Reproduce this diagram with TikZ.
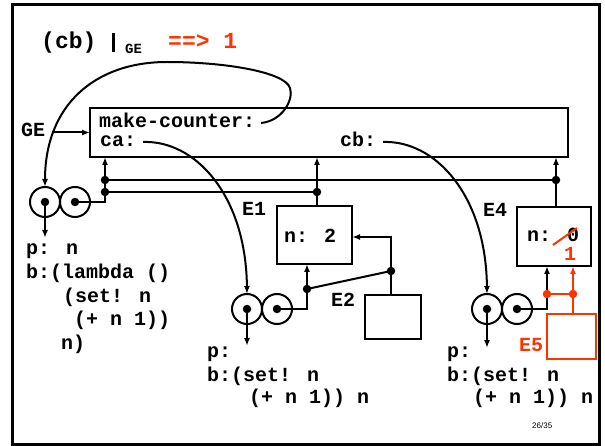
\documentclass[tikz,border=0pt]{standalone}
\usepackage{fontspec}
\newfontfamily\codefont{Liberation Mono}
\newfontfamily\pagefont{Liberation Sans}
\usetikzlibrary{arrows.meta}
\definecolor{hot}{RGB}{255,51,0}
\begin{document}
\begin{tikzpicture}[x=1pt,y=-1pt,
  wire/.style={line width=2pt},
  arr/.style={wire,-{Latex[length=8pt,width=6pt]}},
  dotnode/.style={circle,fill,inner sep=0pt,minimum size=8.5pt},
  cell/.style={circle,draw,line width=2pt,minimum size=30pt,inner sep=0pt,outer sep=0pt},
  frame/.style={draw,line width=2.2pt,inner sep=0pt,outer sep=0pt,anchor=north west},
  code/.style={font=\codefont\bfseries\fontsize{20}{24}\selectfont,inner sep=0pt,anchor=base west},
  big/.style={font=\codefont\bfseries\fontsize{23}{27}\selectfont,inner sep=0pt,anchor=base west},
]
\useasboundingbox (0,0) rectangle (605,446);
\draw[line width=3pt] (12,5) rectangle (599,444);

% title line
\node[big] (call) at (41,49) {(cb)};
\node[inner sep=0pt,anchor=south] (bar) at (113,52) {\rule{3pt}{19pt}};
\node[font=\codefont\bfseries\fontsize{14}{16}\selectfont,inner sep=0pt,anchor=base west] (sub) at (125,54) {GE};
\node[big,text=hot] (res) at (168,49) {==> 1};

% environment frames
\node[frame,minimum width=478pt,minimum height=49pt] (GEbox) at (90,108) {};
\node[frame,minimum width=75pt,minimum height=58pt] (E1box) at (277,206) {};
\node[frame,minimum width=74pt,minimum height=59pt] (E4box) at (517,207) {};
\node[frame,minimum width=56pt,minimum height=44pt] (E2box) at (365,295) {};
\node[frame,draw=hot,minimum width=49pt,minimum height=45pt] (E5box) at (547,314) {};

% procedure objects (pairs of cells)
\node[cell] (c1a) at (45,202) {};
\node[cell] (c1b) at (75,202) {};
\node[cell] (c2a) at (247,309) {};
\node[cell] (c2b) at (277,309) {};
\node[cell] (c3a) at (487,309) {};
\node[cell] (c3b) at (517,309) {};

% junction points
\coordinate (j1) at (105,180);
\coordinate (j2) at (105,192);
\coordinate (j3) at (317,192);
\coordinate (j4) at (556,180);
\coordinate (j5) at (307,289);
\coordinate (j6) at (391,271);
\coordinate (k6) at (391,237);
\coordinate (j7) at (547,294);
\coordinate (j8) at (573,294);

% frame texts
\node[code] (gelab) at (21,137) {GE};
\node[code] (mc) at (99,128) {make-counter:};
\node[code] (ca) at (100,147) {ca:};
\node[code] (cb) at (340,147) {cb:};
\node[code] (e1) at (242,216) {E1};
\node[code] (n2) at (284,243) {n: 2};
\node[code] (e2) at (331,306) {E2};
\node[code] (e4) at (483,217) {E4};
\node[code] (n0) at (527,242) {n: 0};
\node[code,text=hot] (one) at (564,261) {1};
\node[code,text=hot] (e5) at (519,351) {E5};

% procedure bodies
\node[code] (b1p) at (26,255) {p: n};
\node[code] (b1b) at (26,279) {b:(lambda ()};
\node[code] (b1c) at (63,302) {(set! n};
\node[code] (b1d) at (74,326) {(+ n 1))};
\node[code] (b1e) at (61,349) {n)};
\node[code] (b2p) at (207,357) {p:};
\node[code] (b2b) at (207,381) {b:(set! n};
\node[code] (b2c) at (249,403) {(+ n 1)) n};
\node[code] (b3p) at (447,357) {p:};
\node[code] (b3b) at (447,381) {b:(set! n};
\node[code] (b3c) at (473,403) {(+ n 1)) n};

\node[font=\pagefont\fontsize{8}{9}\selectfont,anchor=base west,inner sep=0pt] (pg) at (532,428) {26/35};

% pointers to enclosing environments
\draw[arr] ([xshift=7pt]gelab.east |- GEbox.west) -- (GEbox.west);
\draw[wire] (c1b.center) -| (j2);
\draw[arr] (j2) -- (j2 |- GEbox.south);
\draw[wire] (j2) -- (j3);
\draw[wire] (j1) -- (j4);
\draw[arr] (j3) -- (j3 |- GEbox.south);
\draw[wire] (j3 |- E1box.north) -- (j3);
\draw[wire] (j4 |- E4box.north) -- (j4);
\draw[arr] (j4) -- (j4 |- GEbox.south);
\draw[wire] (c2b.center) -| (j5);
\draw[arr] (j5) -- (j5 |- E1box.south);
\draw[wire] (j5) -- (j6);
\draw[arr] (j6) -- (k6) -- (k6 -| E1box.east);
\draw[wire] (j6) -- (j6 |- E2box.north);
\draw[wire] (c3b.center) -| (j7);
\draw[arr] (j7) -- (j7 |- E4box.south);
\draw[wire,hot] (j7) -- (j8);
\draw[arr,hot] (j8) -- (j8 |- E4box.south);
\draw[wire,hot] (j8) -- (j8 |- E5box.north);

% code pointers
\draw[arr] (c1a.center) -- ++(0,36);
\draw[arr] (c2a.center) -- ++(0,37);
\draw[arr] (c3a.center) -- ++(0,39);

% bindings to procedure objects
\coordinate (mcEnd) at (261,123);
\coordinate (caEnd) at (143,142);
\coordinate (cbEnd) at (383,142);
\draw[arr] (mcEnd) .. controls (282,121) and (294,100) .. (290,88)
  .. controls (285,72) and (225,62) .. (167,62)
  .. controls (95,62) and (45,105) .. (c1a.north);
\draw[arr] (caEnd) .. controls (195,140) and (246,195) .. (c2a.north);
\draw[arr] (cbEnd) .. controls (435,140) and (486,195) .. (c3a.north);

% updated value of n
\draw[wire,hot] (553,245) -- (577,228);

% junction dots and cell dots
\foreach \j in {j1,j2,j3,j4,j5,j6} \node[dotnode] at (\j) {};
\node[dotnode,fill=hot] at (j7) {};
\node[dotnode,fill=hot] at (j8) {};
\foreach \c in {c1a,c1b,c2a,c2b,c3a,c3b} \node[dotnode] at (\c.center) {};
\end{tikzpicture}
\end{document}
